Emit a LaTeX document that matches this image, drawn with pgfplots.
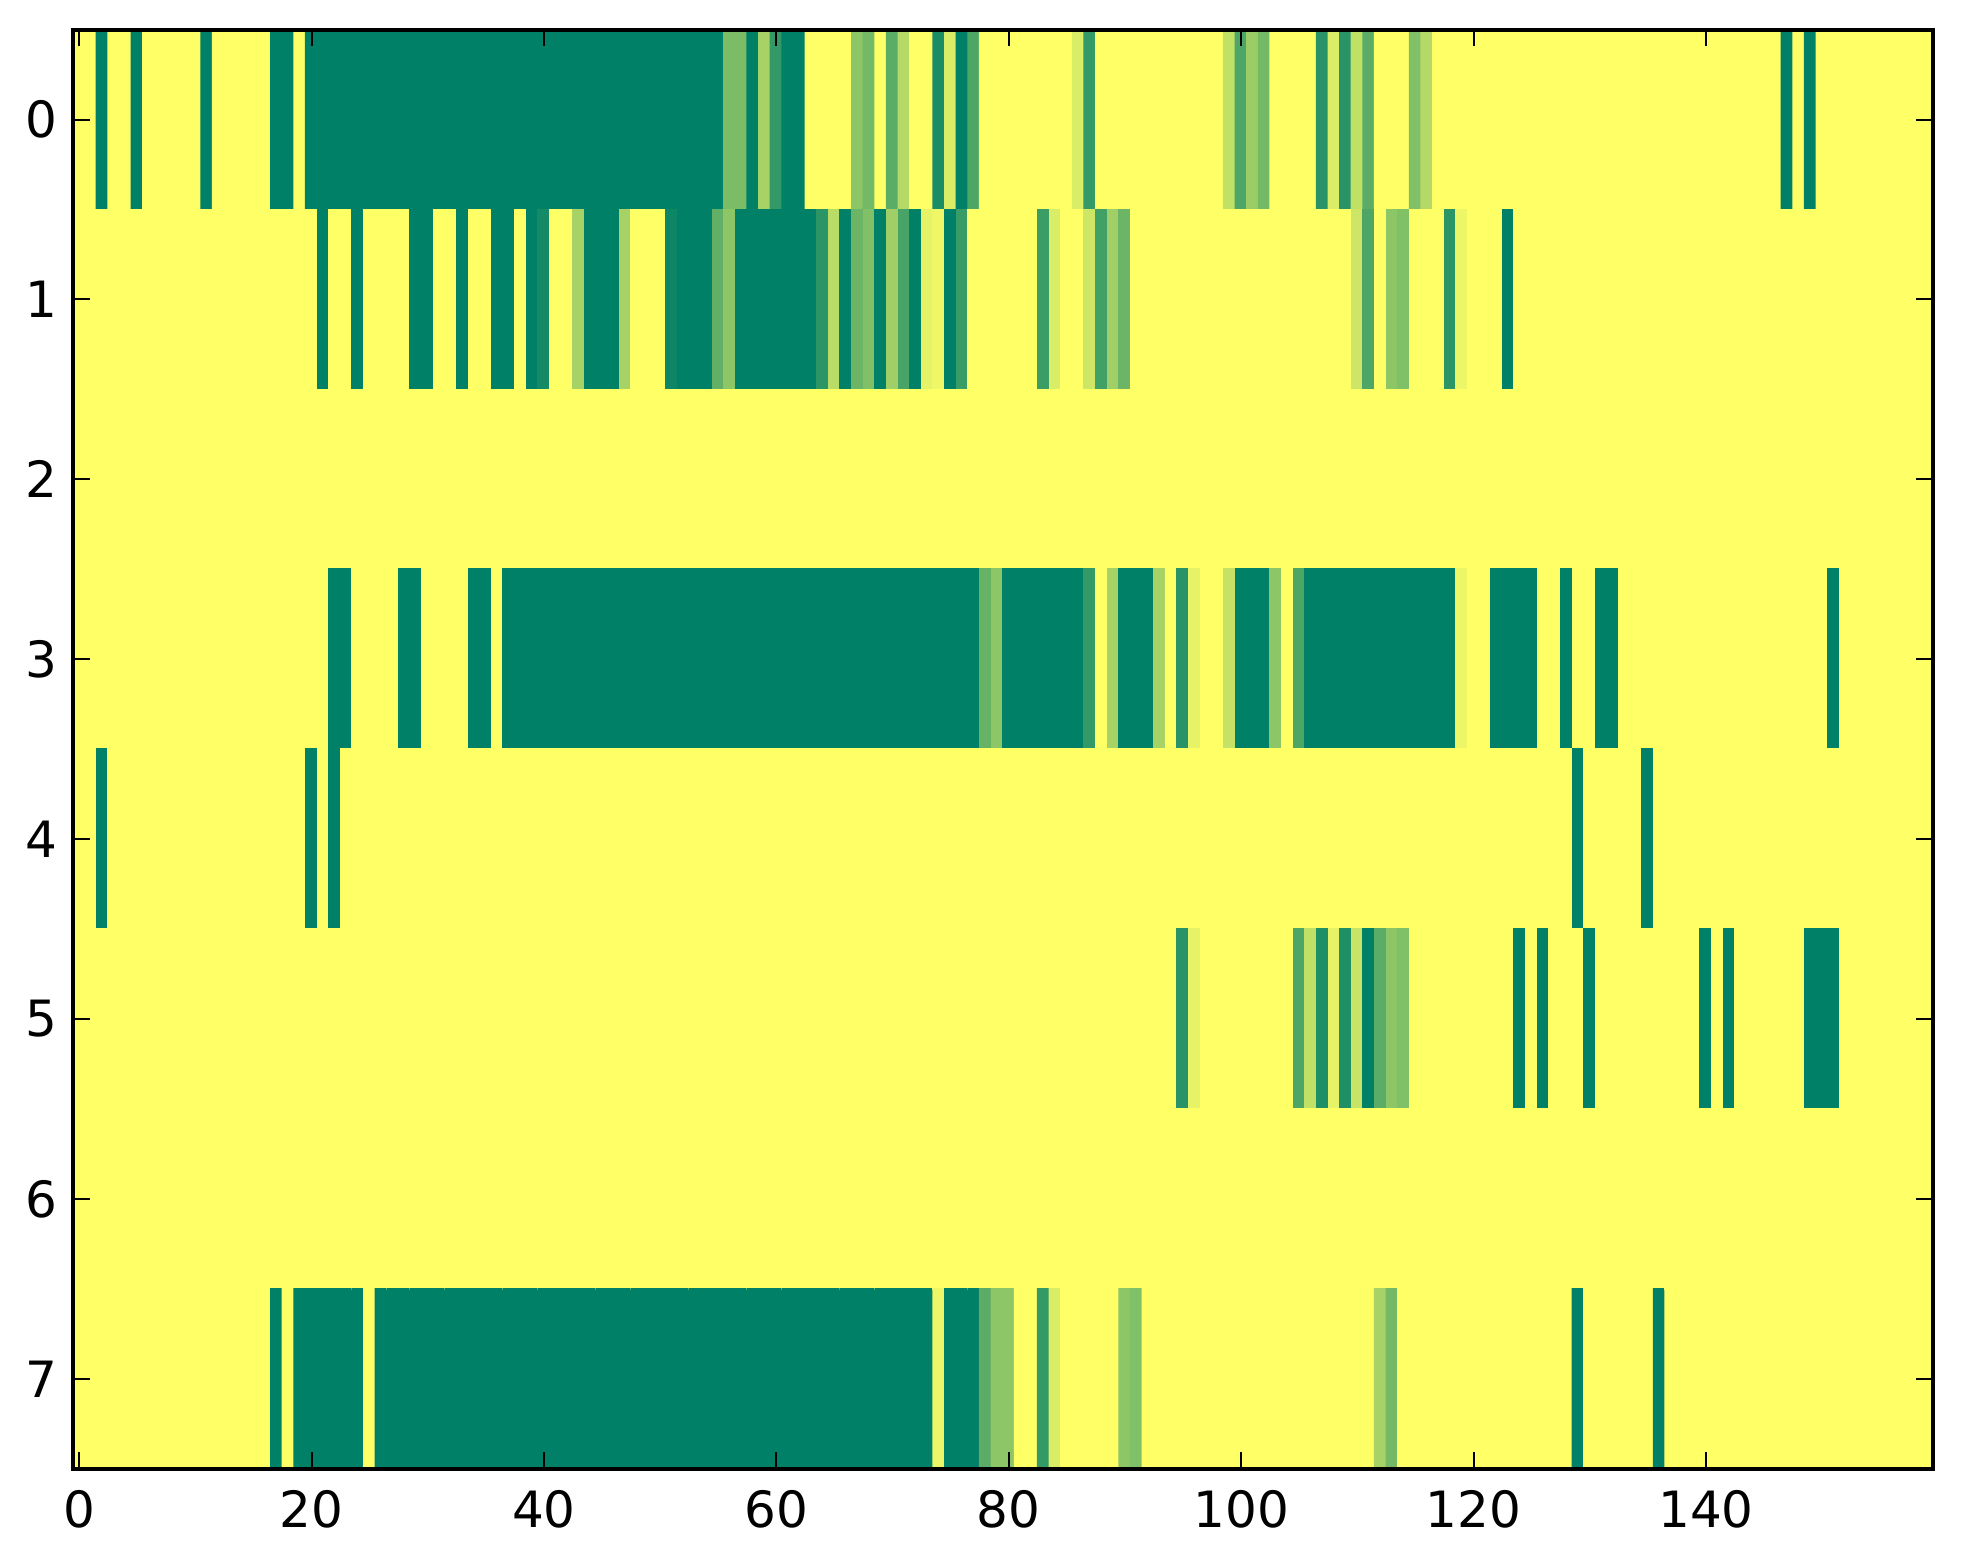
\documentclass[border=0pt]{standalone}
\usepackage{pgfplots}
\pgfplotsset{compat=1.18}
\usepackage{fontspec}
\setmainfont{DejaVu Sans}
\begin{document}
\begin{tikzpicture}
\begin{axis}[
  width=446.2pt, height=345.4pt, scale only axis,
  xmin=-0.5, xmax=159.5, ymin=-0.5, ymax=7.5, y dir=reverse,
  colormap={summer}{rgb=(0,0.5,0.4) rgb=(1,1,0.4)},
  point meta min=0, point meta max=1,
  xtick={0,20,...,140}, ytick={0,1,...,7},
  tick align=inside, major tick length=4pt,
  tick style={black, line width=0.5pt},
  axis line style={line width=1pt},
  ticklabel style={font=\fontsize{12}{14}\selectfont},
  xticklabel style={inner sep=0pt, anchor=north, yshift=-4.9pt},
  yticklabel style={inner sep=0pt, anchor=east, xshift=-3.6pt},
  /pgf/number format/assume math mode=true,
  axis on top,
]
\addplot[matrix plot*, mesh/cols=160, point meta=explicit]
  table[row sep=\\, meta=c, x expr={\coordindex-160*floor(\coordindex/160)}, y expr={floor(\coordindex/160)}] {
c\\
1\\1\\0\\1\\1\\0\\1\\1\\1\\1\\ 1\\0\\1\\1\\1\\1\\1\\0\\0\\1\\ 0\\0\\0\\0\\0\\0\\0\\0\\0\\0\\ 0\\0\\0\\0\\0\\0\\0\\0\\0\\0\\
0\\0\\0\\0\\0\\0\\0\\0\\0\\0\\ 0\\0\\0\\0\\0\\0\\0.48\\0.48\\0\\0.65\\ 0.2\\0\\0\\1\\1\\1\\1\\0.55\\0.45\\1\\ 0.35\\0.7\\1\\1\\0.1\\0.85\\0\\0.3\\1\\1\\
1\\1\\1\\1\\1\\1\\0.85\\0.2\\1\\1\\ 1\\1\\1\\1\\1\\1\\1\\1\\1\\0.75\\ 0.3\\0.6\\0.45\\1\\1\\1\\1\\0.15\\0.85\\0.15\\ 0.75\\0.35\\1\\1\\1\\0.5\\0.7\\1\\1\\1\\
1\\1\\1\\1\\1\\1\\1\\1\\1\\1\\ 1\\1\\1\\1\\1\\1\\1\\1\\1\\1\\ 1\\1\\1\\1\\1\\1\\1\\0\\1\\0\\ 1\\1\\1\\1\\1\\1\\1\\1\\1\\1\\
1\\1\\1\\1\\1\\1\\1\\1\\1\\1\\ 1\\1\\1\\1\\1\\1\\1\\1\\1\\1\\ 1\\0\\1\\1\\0\\1\\1\\1\\1\\0\\ 0\\1\\1\\0\\1\\1\\0\\0\\1\\0\\
0.08\\1\\1\\0.65\\0\\0\\0\\0.65\\1\\1\\ 1\\0.05\\0\\0\\0\\0.38\\0.55\\0\\0\\0\\ 0\\0\\0\\0\\0.17\\0.72\\0\\0.42\\0.5\\0\\ 0.62\\0.28\\0\\0.9\\0.93\\0\\0.22\\1\\1\\1\\
1\\1\\1\\0.23\\0.85\\1\\1\\0.8\\0.25\\0.62\\ 0.42\\1\\1\\1\\1\\1\\1\\1\\1\\1\\ 1\\1\\1\\1\\1\\1\\1\\1\\1\\1\\ 0.8\\0.3\\1\\0.55\\0.5\\1\\1\\1\\0.17\\0.92\\
1\\1\\1\\0\\1\\1\\1\\1\\1\\1\\ 1\\1\\1\\1\\1\\1\\1\\1\\1\\1\\ 1\\1\\1\\1\\1\\1\\1\\1\\1\\1\\ 1\\1\\1\\1\\1\\1\\1\\1\\1\\1\\
1\\1\\1\\1\\1\\1\\1\\1\\1\\1\\ 1\\1\\1\\1\\1\\1\\1\\1\\1\\1\\ 1\\1\\1\\1\\1\\1\\1\\1\\1\\1\\ 1\\1\\1\\1\\1\\1\\1\\1\\1\\1\\
1\\1\\1\\1\\1\\1\\1\\1\\1\\1\\ 1\\1\\1\\1\\1\\1\\1\\1\\1\\1\\ 1\\1\\1\\1\\1\\1\\1\\1\\1\\1\\ 1\\1\\1\\1\\1\\1\\1\\1\\1\\1\\
1\\1\\1\\1\\1\\1\\1\\1\\1\\1\\ 1\\1\\1\\1\\1\\1\\1\\1\\1\\1\\ 1\\1\\1\\1\\1\\1\\1\\1\\1\\1\\ 1\\1\\1\\1\\1\\1\\1\\1\\1\\1\\
1\\1\\1\\1\\1\\1\\1\\1\\1\\1\\ 1\\1\\1\\1\\1\\1\\1\\1\\1\\1\\ 1\\1\\1\\1\\1\\1\\1\\1\\1\\1\\ 1\\1\\1\\1\\1\\1\\1\\1\\1\\1\\
1\\1\\1\\1\\1\\1\\1\\1\\1\\1\\ 1\\1\\1\\1\\1\\1\\1\\1\\1\\1\\ 1\\1\\0\\0\\1\\1\\1\\1\\0\\0\\ 1\\1\\1\\1\\0\\0\\1\\0\\0\\0\\
0\\0\\0\\0\\0\\0\\0\\0\\0\\0\\ 0\\0\\0\\0\\0\\0\\0\\0\\0\\0\\ 0\\0\\0\\0\\0\\0\\0\\0\\0\\0\\ 0\\0\\0\\0\\0\\0\\0\\0\\0.4\\0.55\\
0\\0\\0\\0\\0\\0\\0\\0.2\\1\\0.65\\ 0\\0\\0\\0.65\\1\\0.15\\0.9\\1\\1\\0.77\\ 0\\0\\0\\0.55\\1\\0.3\\0\\0\\0\\0\\ 0\\0\\0\\0\\0\\0\\0\\0\\0\\0.92\\
1\\1\\0\\0\\0\\0\\1\\1\\0\\1\\ 1\\0\\0\\1\\1\\1\\1\\1\\1\\1\\ 1\\1\\1\\1\\1\\1\\1\\1\\1\\1\\ 1\\0\\1\\1\\1\\1\\1\\1\\1\\1\\
1\\1\\0\\1\\1\\1\\1\\1\\1\\1\\ 1\\1\\1\\1\\1\\1\\1\\1\\1\\1\\ 0\\1\\0\\1\\1\\1\\1\\1\\1\\1\\ 1\\1\\1\\1\\1\\1\\1\\1\\1\\1\\
1\\1\\1\\1\\1\\1\\1\\1\\1\\1\\ 1\\1\\1\\1\\1\\1\\1\\1\\1\\1\\ 1\\1\\1\\1\\1\\1\\1\\1\\1\\1\\ 1\\1\\1\\1\\1\\1\\1\\1\\1\\1\\
1\\1\\1\\1\\1\\1\\1\\1\\1\\1\\ 1\\1\\1\\1\\1\\1\\1\\1\\1\\1\\ 1\\1\\1\\1\\1\\1\\1\\1\\1\\1\\ 1\\1\\1\\1\\1\\1\\1\\1\\1\\1\\
1\\1\\1\\1\\1\\1\\1\\1\\1\\0\\ 1\\1\\1\\1\\1\\0\\1\\1\\1\\1\\ 1\\1\\1\\1\\1\\1\\1\\1\\1\\1\\ 1\\1\\1\\1\\1\\1\\1\\1\\1\\1\\
1\\1\\1\\1\\1\\1\\1\\1\\1\\1\\ 1\\1\\1\\1\\1\\1\\1\\1\\1\\1\\ 1\\1\\1\\1\\1\\1\\1\\1\\1\\1\\ 1\\1\\1\\1\\1\\1\\1\\1\\1\\1\\
1\\1\\1\\1\\1\\1\\1\\1\\1\\1\\ 1\\1\\1\\1\\1\\1\\1\\1\\1\\1\\ 1\\1\\1\\1\\1\\1\\1\\1\\1\\1\\ 1\\1\\1\\1\\1\\1\\1\\1\\1\\1\\
1\\1\\1\\1\\1\\1\\1\\1\\1\\1\\ 1\\1\\1\\1\\1\\0.15\\0.9\\1\\1\\1\\ 1\\1\\1\\1\\1\\0.3\\0.75\\0.12\\0.9\\0.12\\ 0.78\\0\\0.35\\0.55\\0.5\\1\\1\\1\\1\\1\\
1\\1\\1\\1\\0\\1\\0\\1\\1\\1\\ 0\\1\\1\\1\\1\\1\\1\\1\\1\\1\\ 0\\1\\0\\1\\1\\1\\1\\1\\1\\0\\ 0\\0\\1\\1\\1\\1\\1\\1\\1\\1\\
1\\1\\1\\1\\1\\1\\1\\1\\1\\1\\ 1\\1\\1\\1\\1\\1\\1\\1\\1\\1\\ 1\\1\\1\\1\\1\\1\\1\\1\\1\\1\\ 1\\1\\1\\1\\1\\1\\1\\1\\1\\1\\
1\\1\\1\\1\\1\\1\\1\\1\\1\\1\\ 1\\1\\1\\1\\1\\1\\1\\1\\1\\1\\ 1\\1\\1\\1\\1\\1\\1\\1\\1\\1\\ 1\\1\\1\\1\\1\\1\\1\\1\\1\\1\\
1\\1\\1\\1\\1\\1\\1\\1\\1\\1\\ 1\\1\\1\\1\\1\\1\\1\\1\\1\\1\\ 1\\1\\1\\1\\1\\1\\1\\1\\1\\1\\ 1\\1\\1\\1\\1\\1\\1\\1\\1\\1\\
1\\1\\1\\1\\1\\1\\1\\1\\1\\1\\ 1\\1\\1\\1\\1\\1\\1\\1\\1\\1\\ 1\\1\\1\\1\\1\\1\\1\\1\\1\\1\\ 1\\1\\1\\1\\1\\1\\1\\1\\1\\1\\
1\\1\\1\\1\\1\\1\\1\\1\\1\\1\\ 1\\1\\1\\1\\1\\1\\1\\0\\1\\0\\ 0\\0\\0\\0\\0\\1\\0\\0\\0\\0\\ 0\\0\\0\\0\\0\\0\\0\\0\\0\\0\\
0\\0\\0\\0\\0\\0\\0\\0\\0\\0\\ 0\\0\\0\\0\\0\\0\\0\\0\\0\\0\\ 0\\0\\0\\0\\0\\0\\0\\0\\0\\0\\ 0\\0\\0\\0\\0.92\\0\\0\\0\\0.35\\0.55\\
0.55\\1\\1\\0.2\\0.85\\1\\1\\1\\1\\1\\ 0.55\\0.5\\1\\1\\1\\1\\1\\1\\1\\1\\ 1\\1\\1\\1\\1\\1\\1\\1\\1\\1\\ 1\\1\\0.65\\0.45\\1\\1\\1\\1\\1\\1\\
1\\1\\1\\1\\1\\1\\1\\1\\1\\0\\ 1\\1\\1\\1\\1\\1\\0\\1\\1\\1\\ 1\\1\\1\\1\\1\\1\\1\\1\\1\\1\\ 1\\1\\1\\1\\1\\1\\1\\1\\1\\1\\
};
\end{axis}
\pgfresetboundingbox
\path[use as bounding box] (-17.6pt,-22.9pt) rectangle (453.5pt,352.5pt);
\end{tikzpicture}
\end{document}
